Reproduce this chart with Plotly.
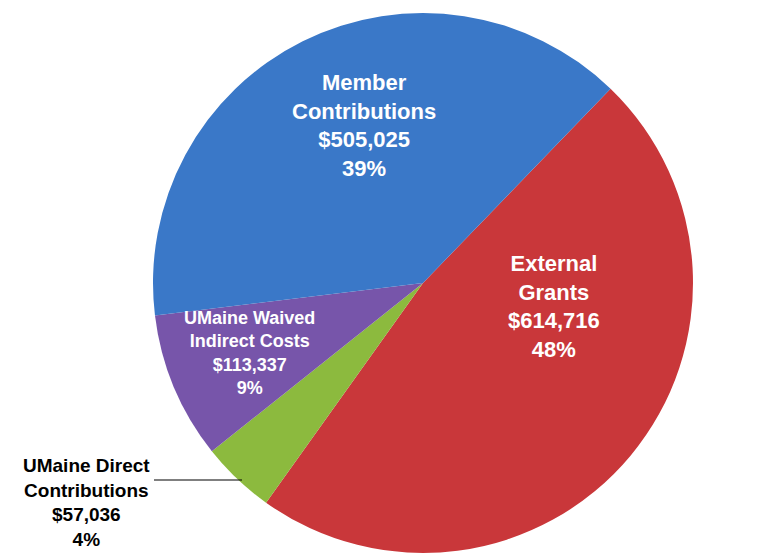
import plotly.graph_objects as go

labels = ["External Grants", "UMaine Direct Contributions", "UMaine Waived Indirect Costs", "Member Contributions"]
label_lines = [["External", "Grants"], ["UMaine Direct", "Contributions"], ["UMaine Waived", "Indirect Costs"], ["Member", "Contributions"]]
values = [614716, 57036, 113337, 505025]
colors = ["#c9373a", "#8cba3e", "#7755aa", "#3a78c8"]

W, H = 768, 558
cx, cy, R = 415, 275, 270

fig = go.Figure(go.Pie(
    labels=labels,
    values=values,
    sort=False,
    direction="clockwise",
    rotation=44,
    marker=dict(colors=colors, line=dict(width=0)),
    textinfo="none",
    hoverinfo="label+value+percent",
    domain=dict(x=[(cx - R) / W, (cx + R) / W], y=[1 - (cy + R) / H, 1 - (cy - R) / H]),
    showlegend=False,
))

total = sum(values)

def block(i):
    pct = round(100 * values[i] / total)
    return "<br>".join(label_lines[i] + [f"${values[i]:,}", f"{pct}%"])

# label placements (pixel centre) : (x, y, size, color)
placements = {
    3: (356, 117, 22, "white"),
    0: (546, 298, 22, "white"),
    2: (241, 345, 18, "white"),
    1: (78, 494, 19, "black"),
}
annotations = []
for i, (px, py, size, col) in placements.items():
    annotations.append(dict(
        x=px / W, y=1 - py / H, xref="paper", yref="paper",
        xanchor="center", yanchor="middle",
        text=block(i), showarrow=False, align="center",
        font=dict(family="Liberation Sans, Arial", size=size, color=col, weight="bold"),
    ))

shapes = [dict(type="line", xref="paper", yref="paper",
               x0=146 / W, y0=1 - 472 / H, x1=234 / W, y1=1 - 472 / H,
               line=dict(color="black", width=1.2))]

fig.update_layout(
    width=W, height=H,
    margin=dict(l=0, r=0, t=0, b=0),
    paper_bgcolor="white", plot_bgcolor="white",
    annotations=annotations, shapes=shapes,
)
fig.write_html("out.html")
